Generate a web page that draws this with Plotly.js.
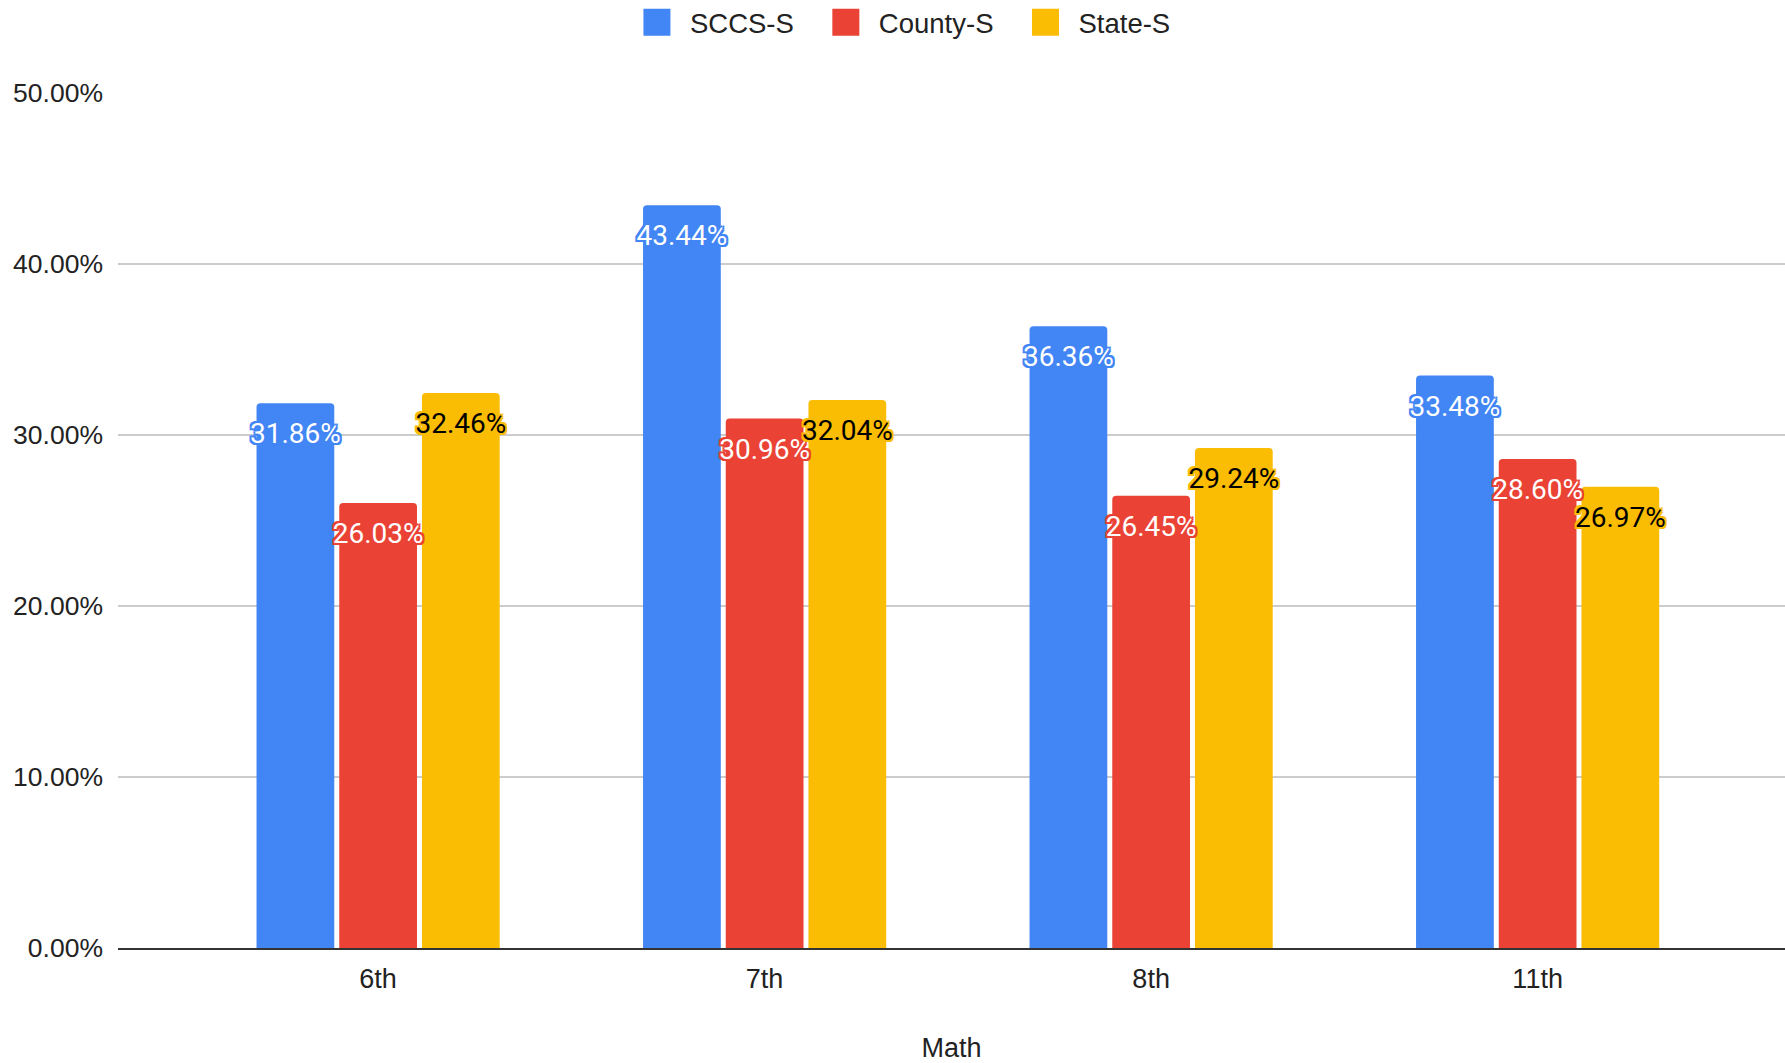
<!DOCTYPE html>
<html>
<head>
<meta charset="utf-8">
<script src="https://cdn.plot.ly/plotly-3.0.1.min.js"></script>
<style>
  html, body { margin: 0; padding: 0; background: #ffffff; }
  #chart { width: 1785px; height: 1063px; }
</style>
</head>
<body>
<div id="chart"></div>
<script>
// ---- Data ----
const categories = ["6th", "7th", "8th", "11th"];
const seriesNames = ["SCCS-S", "County-S", "State-S"];
const sccsValues   = [0.3186, 0.4344, 0.3636, 0.3348];
const countyValues = [0.2603, 0.3096, 0.2645, 0.2860];
const stateValues  = [0.3246, 0.3204, 0.2924, 0.2697];
const yTickValues  = [0, 0.1, 0.2, 0.3, 0.4, 0.5];
const xAxisTitle   = "Math";

// ---- Styles ----
const colors = ["#4285F4", "#EA4335", "#FBBC04"];
const labelColors = ["#ffffff", "#ffffff", "#000000"];
const LABEL_FONT = "Roboto, Arial, sans-serif";
const AXIS_FONT = "'Liberation Sans', Arial, sans-serif";
const BARGAP = 0.358;
const LEGEND_ITEMWIDTH = 70;

function halo(c) {
  const offs = [[-2,-2],[2,-2],[-2,2],[2,2],[0,2],[0,-2],[2,0],[-2,0]];
  return offs.map(o => o[0] + "px " + o[1] + "px 0 " + c).join(", ");
}

const valueSets = [sccsValues, countyValues, stateValues];

const barTraces = valueSets.map((vals, i) => ({
  type: "bar",
  name: seriesNames[i],
  x: categories,
  y: vals,
  marker: { color: colors[i], line: { width: 0 } },
  textposition: "none",
  hoverinfo: "skip"
}));

// value labels: grouped scatter text sitting just under each bar top
const labelTraces = valueSets.map((vals, i) => ({
  type: "scatter",
  mode: "markers+text",
  name: seriesNames[i] + " labels",
  showlegend: false,
  x: categories,
  y: vals,
  marker: { size: 29, opacity: 0, color: colors[i] },
  texttemplate: "%{y:.2%}",
  textposition: "bottom center",
  cliponaxis: false,
  textfont: { family: LABEL_FONT, size: 28, color: labelColors[i], shadow: halo(colors[i]) },
  hoverinfo: "skip"
}));

const layout = {
  width: 1785,
  height: 1063,
  paper_bgcolor: "#ffffff",
  plot_bgcolor: "#ffffff",
  font: { family: AXIS_FONT, size: 26, color: "#222222" },
  margin: { l: 118, r: 0, t: 93, b: 115, pad: 0 },
  barmode: "group",
  bargap: BARGAP,
  bargroupgap: 0.06,
  barcornerradius: 4,
  scattermode: "group",
  scattergap: BARGAP,
  showlegend: true,
  legend: {
    orientation: "h",
    xref: "container", yref: "container",
    x: 0.3417, xanchor: "left",
    y: 0.979, yanchor: "middle",
    font: { family: AXIS_FONT, size: 27.5, color: "#222222" },
    itemwidth: LEGEND_ITEMWIDTH,
    traceorder: "normal"
  },
  xaxis: {
    type: "category",
    range: [-0.673, 3.64],
    showgrid: false,
    showline: true,
    linecolor: "#333333",
    linewidth: 2,
    ticks: "",
    ticklabelstandoff: 6,
    tickfont: { family: AXIS_FONT, size: 27, color: "#222222" },
    title: { text: xAxisTitle, font: { family: AXIS_FONT, size: 27, color: "#222222" }, standoff: 55 },
    fixedrange: true
  },
  yaxis: {
    range: [0, 0.5],
    tickvals: yTickValues,
    tickformat: ".2%",
    showgrid: true,
    gridcolor: "#cccccc",
    gridwidth: 2,
    zeroline: false,
    showline: false,
    ticks: "",
    ticklabelstandoff: 14,
    tickfont: { family: AXIS_FONT, size: 26.5, color: "#222222" },
    fixedrange: true
  }
};

Plotly.newPlot("chart", barTraces.concat(labelTraces), layout, { displayModeBar: false, staticPlot: true }).then(gd => {
  // larger swatches placed closer to their label text, as in the reference
  document.querySelectorAll(".legend .traces").forEach(item => {
    const txt = item.querySelector("text.legendtext");
    const textX = txt ? parseFloat(txt.getAttribute("x")) : LEGEND_ITEMWIDTH + 10;
    item.querySelectorAll(".legendpoints path").forEach(p => {
      p.setAttribute("d", "M6,6H-6V-6H6Z");
      p.setAttribute("transform", "translate(" + (textX - 33) + ",0) scale(2.25)");
    });
  });
});
</script>
</body>
</html>
